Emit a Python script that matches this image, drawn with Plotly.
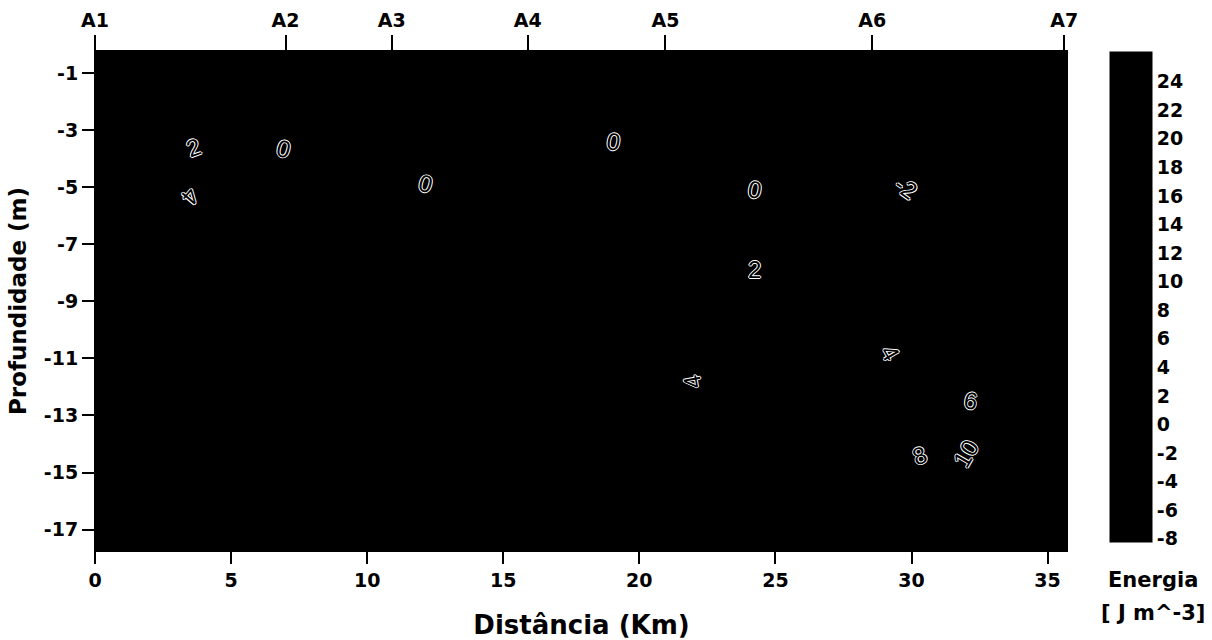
import plotly.graph_objects as go

# ---- data ----
distance_km = [0, 3.5, 7, 10.5, 14, 17.5, 21, 24.5, 28, 31.5, 35.75]
depth_m = [-0.25, -2, -4, -6, -8, -10, -12, -14, -16, -17.75]
energy = [
    [0, 0, 0, 0, 0, 0, 0, 0, 0, 0, 0],
    [0, 1, 0, 0, 0, 0, 0, 0, -1, -1, 0],
    [1, 2, 0, 0, 0, 0, 0, 0, -1, -2, 0],
    [2, 4, 1, 0, 0, 0, 0, 0, -1, -2, 0],
    [1, 2, 1, 1, 1, 1, 1, 2, 2, 2, 2],
    [1, 1, 1, 1, 2, 2, 3, 3, 3, 4, 4],
    [1, 1, 2, 2, 2, 3, 4, 4, 4, 6, 6],
    [1, 2, 2, 2, 3, 4, 5, 6, 7, 8, 10],
    [2, 2, 2, 3, 3, 4, 5, 6, 7, 8, 9],
    [2, 2, 2, 3, 3, 4, 5, 6, 6, 7, 8],
]

station_names = ["A1", "A2", "A3", "A4", "A5", "A6", "A7"]
station_km = [0, 7.0, 10.9, 15.9, 20.96, 28.56, 35.61]

x_ticks = [0, 5, 10, 15, 20, 25, 30, 35]
y_ticks = [-1, -3, -5, -7, -9, -11, -13, -15, -17]
cbar_ticks = [-8, -6, -4, -2, 0, 2, 4, 6, 8, 10, 12, 14, 16, 18, 20, 22, 24]

label_text = ["2", "4", "0", "0", "0", "0", "-2", "2", "4", "4", "6", "8", "10"]
label_x = [3.62, 3.51, 6.91, 12.13, 19.06, 24.24, 29.78, 24.24, 21.94, 29.21, 32.16, 30.29, 32.01]
label_y = [-3.62, -5.33, -3.64, -4.86, -3.39, -5.09, -5.03, -7.9, -11.84, -10.79, -12.48, -14.4, -14.35]
label_angle = [-20, 130, 15, 15, 10, 10, 35, 0, -100, 60, 10, -20, -60]

FONT = "DejaVu Sans, sans-serif"
NARROW = "Liberation Sans Narrow, Liberation Sans, sans-serif"
bold = dict(family=FONT, weight="bold", color="black")

fig = go.Figure()
fig.add_trace(go.Heatmap(
    x=distance_km, y=depth_m, z=energy,
    zmin=-8.2, zmax=26.1,
    colorscale=[[0, "#000000"], [1, "#000000"]],
    colorbar=dict(
        x=(1110 - 95) / 973, xanchor="left", xref="paper",
        y=0.9986, yanchor="top", yref="paper",
        thickness=42, thicknessmode="pixels",
        len=490, lenmode="pixels",
        xpad=0, ypad=0,
        tickvals=cbar_ticks, ticktext=[str(v) for v in cbar_ticks],
        ticks="", ticklabelposition="outside",
        tickfont=dict(size=19, **bold),
        outlinewidth=1, outlinecolor="black",
    ),
    hoverinfo="skip",
))

# invisible trace for the top station axis
fig.add_trace(go.Scatter(
    x=station_km, y=[-0.25] * len(station_km), xaxis="x2", yaxis="y",
    mode="markers", marker=dict(opacity=0), showlegend=False, hoverinfo="skip",
))

outline = "1px 0 0 #fff, -1px 0 0 #fff, 0 1px 0 #fff, 0 -1px 0 #fff"
for t, lx, ly, ang in zip(label_text, label_x, label_y, label_angle):
    fig.add_annotation(
        x=lx, y=ly, xref="x", yref="y", text=t, showarrow=False,
        textangle=ang,
        font=dict(family=NARROW, size=24, color="black", shadow=outline),
    )

fig.add_annotation(x=(1153 - 95) / 973, y=(551 - 580) / 500, xref="paper", yref="paper",
                   xanchor="center", yanchor="middle",
                   text="Energia", showarrow=False, font=dict(size=21, **bold))
fig.add_annotation(x=(1153 - 95) / 973, y=(551 - 613) / 500, xref="paper", yref="paper",
                   xanchor="center", yanchor="middle",
                   text="[ J m^-3]", showarrow=False, font=dict(size=21, **bold))

fig.update_layout(
    width=1212, height=640,
    margin=dict(l=95, r=144, t=51, b=89, autoexpand=False),
    paper_bgcolor="white", plot_bgcolor="black",
    showlegend=False,
    xaxis=dict(
        range=[0, 35.75], tickvals=x_ticks, ticks="outside", ticklen=12,
        tickwidth=1.5, tickcolor="black", showline=True, linecolor="black",
        showgrid=False, zeroline=False, tickfont=dict(size=19, **bold),
        automargin=False,
        title=dict(text="Distância (Km)", font=dict(size=26, **bold), standoff=26),
    ),
    xaxis2=dict(
        range=[0, 35.75], overlaying="x", side="top", anchor="y",
        tickvals=station_km, ticktext=station_names, ticks="outside",
        ticklen=15, tickwidth=1.5, tickcolor="black", showgrid=False,
        zeroline=False, showline=True, linecolor="black", automargin=False,
        tickfont=dict(size=19, **bold),
    ),
    yaxis=dict(
        range=[-17.75, -0.23], tickvals=y_ticks, ticktext=[str(v) for v in y_ticks],
        ticks="outside", ticklen=12, automargin=False,
        tickwidth=1.5, tickcolor="black", showline=True, linecolor="black",
        showgrid=False, zeroline=False, tickfont=dict(size=19, **bold),
        title=dict(text="Profundidade (m)", font=dict(size=23, **bold), standoff=10),
    ),
)

fig.write_html("out.html")
